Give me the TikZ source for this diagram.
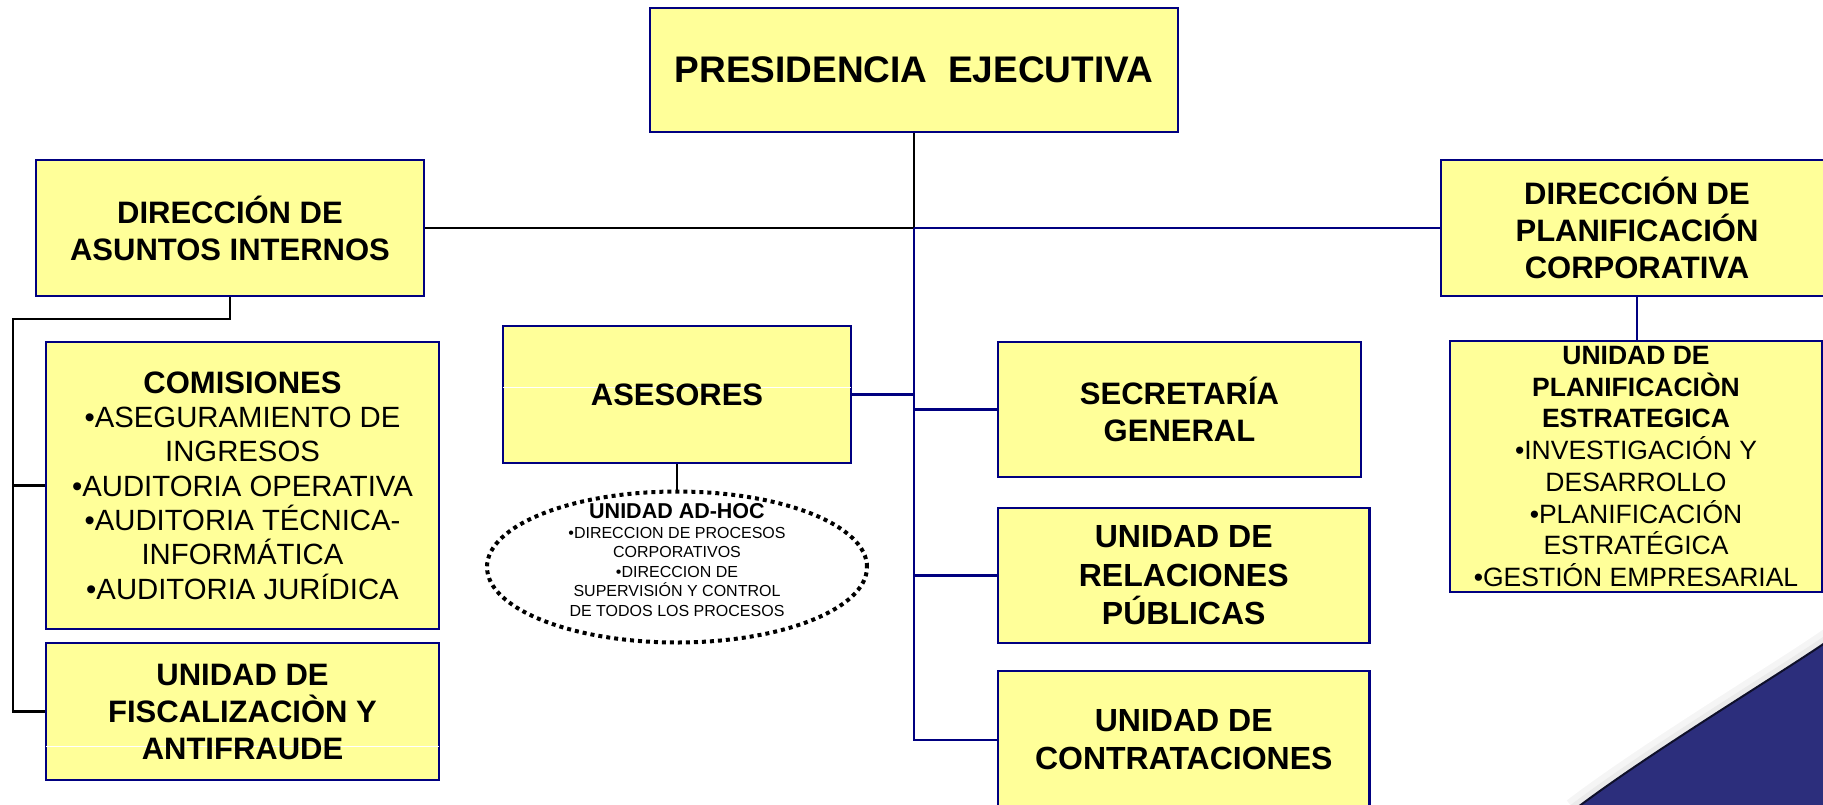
\documentclass[tikz,border=0pt]{standalone}
\usepackage{fontspec}
\setmainfont{Liberation Sans}
\usetikzlibrary{shapes.geometric}
\definecolor{boxyellow}{RGB}{255,255,153}
\definecolor{navyb}{RGB}{0,0,128}
\definecolor{decor}{RGB}{44,46,124}
\begin{document}
\begin{tikzpicture}[x=1pt,y=-1pt,
  box/.style={draw=navyb, line width=2.6pt, fill=boxyellow, inner sep=0pt, align=center},
  hb/.style={font=\fontsize{31}{37}\selectfont\bfseries},
  bline/.style={line width=2.6pt, black},
  nline/.style={line width=2.6pt, navyb},
  artline/.style={white, line width=1pt, shorten <=1.5pt, shorten >=1.5pt}]
\useasboundingbox (0,0) rectangle (1823,804);
\clip (0,0) rectangle (1823,804);
% background decoration (slide swoosh)
\draw[gray!8, line width=24pt] (1832,638) .. controls (1790,668) and (1650,752) .. (1574,810);
\draw[gray!16, line width=12pt] (1832,638) .. controls (1790,668) and (1650,752) .. (1574,810);
\fill[decor] (1832,638) .. controls (1790,668) and (1650,752) .. (1574,810) -- (1840,812) -- cycle;
\draw[black!65!decor, line width=2pt] (1832,638) .. controls (1790,668) and (1650,752) .. (1574,810);

% boxes
\node[box, minimum width=528pt, minimum height=124pt, font=\fontsize{37}{44}\selectfont\bfseries] (pres) at (914,70) {PRESIDENCIA\ \ EJECUTIVA};
\node[box, hb, minimum width=388pt, minimum height=136pt] (dai) at (230,228) {DIRECCIÓN DE\\ASUNTOS INTERNOS};
\node[box, hb, minimum width=392pt, minimum height=136pt] (dpc) at (1637,228) {DIRECCIÓN DE\\PLANIFICACIÓN\\CORPORATIVA};
\node[box, minimum width=393pt, minimum height=287pt, font=\fontsize{29.3}{34.3}\selectfont] (com) at (242.5,485.5)
  {{\fontsize{31}{34.3}\selectfont\bfseries COMISIONES}\\•ASEGURAMIENTO DE\\INGRESOS\\•AUDITORIA OPERATIVA\\•AUDITORIA TÉCNICA-\\INFORMÁTICA\\•AUDITORIA JURÍDICA};
\node[box, minimum width=393pt, minimum height=137pt] (fis) at (242.5,711.5) {};
\node[box, minimum width=348pt, minimum height=137pt] (ase) at (677,394.5) {};
\node[box, hb, minimum width=363pt, minimum height=135pt] (sec) at (1179.5,409.5) {SECRETARÍA\\GENERAL};
\node[box, minimum width=371.5pt, minimum height=135pt, font=\fontsize{32}{38.5}\selectfont\bfseries] (rel) at (1183.75,575.5) {UNIDAD DE\\RELACIONES\\PÚBLICAS};
\node[box, minimum width=371.5pt, minimum height=138pt, font=\fontsize{32}{38}\selectfont\bfseries] (con) at (1183.75,740) {UNIDAD DE\\CONTRATACIONES};
\node[box, minimum width=372pt, minimum height=251pt] (upe) at (1636,466.5) {};
\node[align=center, inner sep=0pt, font=\fontsize{26.5}{31.7}\selectfont] (upet) at (upe.center)
  {{\bfseries UNIDAD DE}\\{\bfseries PLANIFICACIÒN}\\{\bfseries ESTRATEGICA}\\•INVESTIGACIÓN Y\\DESARROLLO\\•PLANIFICACIÓN\\ESTRATÉGICA\\•GESTIÓN EMPRESARIAL};

% faint white artefact lines inside boxes (behind the text)
\coordinate (wa) at (0,387);
\coordinate (wf) at (0,746);
\draw[artline] (ase.west |- wa) -- (ase.east |- wa);
\draw[artline] (fis.west |- wf) -- (fis.east |- wf);
\node[hb, align=center, inner sep=0pt] (aset) at (ase.center) {ASESORES};
\node[hb, align=center, inner sep=0pt] (fist) at (fis.center) {UNIDAD DE\\FISCALIZACIÒN Y\\ANTIFRAUDE};

% ad-hoc ellipse
\node[ellipse, draw=black, line width=4pt, dash pattern=on 4pt off 4pt, minimum width=380pt, minimum height=151pt, inner sep=0pt] (adh) at (677,567) {};
\node[align=center, inner sep=0pt, font=\fontsize{16}{19.5}\selectfont] (adht) at (677,560)
  {{\fontsize{21.5}{21}\selectfont\bfseries UNIDAD AD-HOC}\\•DIRECCION DE PROCESOS\\CORPORATIVOS\\•DIRECCION DE\\SUPERVISIÓN Y CONTROL\\DE TODOS LOS PROCESOS};

% connectors
\coordinate (j) at (914,228);
\coordinate (lt) at (13,319);
\draw[bline] (pres.south) -- (j);
\draw[bline] (dai.east) -- (j);
\draw[nline] (j) -- (dpc.west);
\draw[nline] (j) |- (con.west);
\draw[nline] (ase.east) -- (ase.east -| j);
\draw[nline] (sec.west) -- (sec.west -| j);
\draw[nline] (rel.west) -- (rel.west -| j);
\draw[bline] (dai.south) |- (lt) |- (fis.west);
\draw[bline] (com.west) -- (com.west -| lt);
\draw[line width=2pt, black] (ase.south) -- (adh.north);
\draw[line width=2pt, navyb] (dpc.south) -- (dpc.south |- upe.north);
\end{tikzpicture}
\end{document}
